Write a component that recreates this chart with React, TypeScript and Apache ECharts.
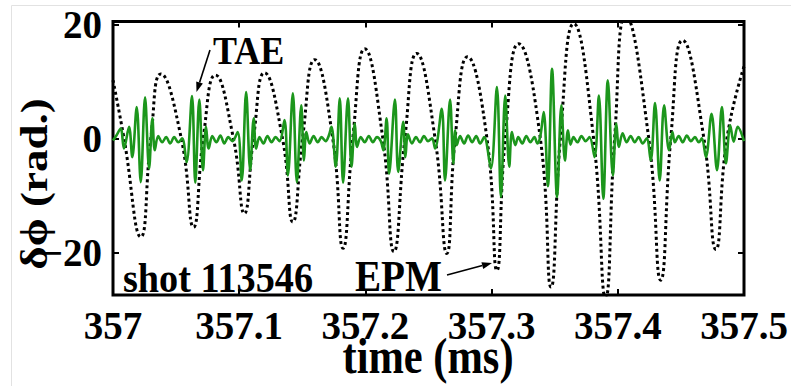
import React, { useEffect, useRef } from 'react';
import * as echarts from 'echarts';

// ---- data ----
const xTicks = [357, 357.1, 357.2, 357.3, 357.4, 357.5];
const yTicks = [-20, 0, 20];

// EPM (black dotted) : extrema and zero crossings
const epmTime = [
  357.0, 357.0087, 357.022, 357.03, 357.0379, 357.0541, 357.0638, 357.0715, 357.0811, 357.0954,
  357.1041, 357.1113, 357.12, 357.1343, 357.1425, 357.1502, 357.1598, 357.1741, 357.1823, 357.19,
  357.1995, 357.2138, 357.2226, 357.2313, 357.2406, 357.2552, 357.2645, 357.2711, 357.2809, 357.2963,
  357.3042, 357.3108, 357.3214, 357.3386, 357.3471, 357.3545, 357.3651, 357.3808, 357.3903, 357.3975,
  357.4062, 357.4245, 357.434, 357.442, 357.4513, 357.4682, 357.4777, 357.4865, 357.5,
];
const epmPhase = [
  10.2, 0, -17.3, 0, 11.3, 0, -15.6, 0, 11.1, 0,
  -13.2, 0, 11.5, 0, -14.7, 0, 13.8, 0, -19.3, 0,
  15.7, 0, -19.9, 0, 14.9, 0, -20.2, 0, 14.3, 0,
  -23.2, 0, 16.6, 0, -26.1, 0, 20.1, 0, -28.0, 0,
  21.5, 0, -24.9, 0, 17.2, 0, -19.5, 0, 12.6,
];

// TAE (green) : peaks / troughs
const taeTime = [
  357.0, 357.0024, 357.0061, 357.0087, 357.0127, 357.0153, 357.0188, 357.022, 357.0254, 357.0286,
  357.0312, 357.0331, 357.0358, 357.039, 357.0421, 357.0453, 357.0485, 357.0517, 357.0548, 357.0583,
  357.0626, 357.0652, 357.0684, 357.0713, 357.0737, 357.0758, 357.0787, 357.0819, 357.0851, 357.0882,
  357.0914, 357.0946, 357.0988, 357.102, 357.1055, 357.1087, 357.1115, 357.1134, 357.1161, 357.1192,
  357.1224, 357.1256, 357.1288, 357.132, 357.1359, 357.1386, 357.1425, 357.1457, 357.1492, 357.1513,
  357.1532, 357.1558, 357.159, 357.1622, 357.1653, 357.1685, 357.1709, 357.1731, 357.1765, 357.1797,
  357.1823, 357.1862, 357.189, 357.1916, 357.1934, 357.1963, 357.1995, 357.2027, 357.2059, 357.2091,
  357.2122, 357.2142, 357.2168, 357.2188, 357.2234, 357.226, 357.23, 357.2317, 357.2337, 357.2369,
  357.2401, 357.2432, 357.2464, 357.2496, 357.2528, 357.2552, 357.2605, 357.2631, 357.2671, 357.2697,
  357.2711, 357.2724, 357.275, 357.2782, 357.2814, 357.2846, 357.2878, 357.2909, 357.2941, 357.2994,
  357.3042, 357.3074, 357.3108, 357.314, 357.3161, 357.3188, 357.3211, 357.3243, 357.3275, 357.3307,
  357.3339, 357.3363, 357.3386, 357.3413, 357.3446, 357.3479, 357.3519, 357.3553, 357.3581, 357.3605,
  357.3625, 357.3649, 357.368, 357.3712, 357.3744, 357.3776, 357.3816, 357.385, 357.3885, 357.3921,
  357.3961, 357.3988, 357.4009, 357.4038, 357.407, 357.4102, 357.4134, 357.4165, 357.4197, 357.4229,
  357.4261, 357.4295, 357.4332, 357.4367, 357.4406, 357.4433, 357.4452, 357.4483, 357.4515, 357.4547,
  357.4579, 357.4611, 357.4642, 357.4666, 357.4698, 357.4743, 357.4786, 357.4825, 357.4857, 357.4891,
  357.4918, 357.495, 357.5,
];
const taePhase = [
  -0.4, 0.4, 1.7, -1.8, 2.0, -3.3, 5.5, -7.7, 7.2, -5.3,
  3.5, -2.1, 0.4, -0.7, 0.2, -0.9, 0.2, -0.7, 0.0, -4.2,
  7.4, -7.8, 6.8, -5.6, 2.0, -1.8, 0.4, -0.7, 0.5, -0.9,
  0.2, -0.5, 1.1, -7.4, 8.1, -5.6, 3.5, -1.8, 0.2, -0.9,
  0.4, -0.7, 0.2, -0.5, 3.2, -6.5, 7.9, -7.7, 5.8, -3.9,
  1.1, -0.9, 0.4, -0.7, 0.2, -0.5, 0.4, 2.0, -5.0, 7.0,
  -7.8, 7.0, -5.0, 2.6, -1.5, 0.2, -0.7, 0.4, -0.7, 0.2,
  -0.5, -2.1, 3.5, -6.2, 6.8, -5.9, 2.9, -3.3, 0.7, -0.9,
  0.2, -0.7, 0.4, -0.5, 0.0, -1.8, 5.2, -7.4, 6.8, -4.4,
  1.4, -1.2, 0.4, -0.9, 0.5, -0.7, 0.4, -0.9, 0.2, -5.3,
  9.0, -10.3, 7.5, -5.0, 1.1, -1.2, 0.2, -0.9, 0.4, -0.7,
  0.2, -0.9, 0.4, 4.6, -8.4, 12.2, -10.3, 5.8, -3.9, 1.4,
  -1.1, 0.2, -0.7, 0.4, -0.5, 0.2, -3.3, 7.5, -10.6, 10.2,
  -6.5, 2.6, -1.5, 0.9, -0.7, 0.4, -0.7, 0.2, -0.9, 0.0,
  -3.9, 6.2, -7.4, 5.8, -2.1, 1.1, -0.7, 0.4, -0.7, 0.5,
  -0.5, 0.2, -0.7, 0.0, -3.3, 4.3, -5.6, 5.5, -4.4, 2.3,
  -0.6, 2.0, -0.5,
];

const SERIF = '"Liberation Serif", "Times New Roman", "DejaVu Serif", serif';

function arrow(x1: number, y1: number, tx: number, ty: number, headLen: number, headHalf: number) {
  const dx = tx - x1;
  const dy = ty - y1;
  const len = Math.sqrt(dx * dx + dy * dy);
  const ux = dx / len;
  const uy = dy / len;
  const bx = tx - ux * headLen;
  const by = ty - uy * headLen;
  const nx = -uy;
  const ny = ux;
  return [
    {
      type: 'line',
      z: 100,
      shape: { x1, y1, x2: bx, y2: by },
      style: { stroke: '#000', lineWidth: 1.6 },
    },
    {
      type: 'polygon',
      z: 100,
      shape: {
        points: [
          [tx, ty],
          [bx + nx * headHalf, by + ny * headHalf],
          [bx - nx * headHalf, by - ny * headHalf],
        ],
      },
      style: { fill: '#000' },
    },
  ];
}

function label(text: string, x: number, y: number, size: number, sx: number, extra: any = {}) {
  return {
    type: 'text',
    z: 100,
    x,
    y,
    scaleX: sx,
    ...extra,
    style: {
      text,
      font: `bold ${size}px ${SERIF}`,
      fill: '#000',
      align: extra.align || 'left',
      textAlign: extra.align || 'left',
      verticalAlign: 'middle',
      textVerticalAlign: 'middle',
    },
  };
}

export default function App() {
  const ref = useRef<HTMLDivElement>(null);

  useEffect(() => {
    if (!ref.current) return;
    const chart = echarts.init(ref.current, null, { renderer: 'svg' });

    const epm = epmTime.map((t, i) => [t, epmPhase[i]]);
    const tae = taeTime.map((t, i) => [t, taePhase[i]]);

    const tickStyle = { color: '#000', width: 2 };
    const xLabelFmt = (v: number) => {
      const r = Math.round(v * 10) / 10;
      return Number.isInteger(r) ? String(r) : r.toFixed(1);
    };
    const yLabelFmt = (v: number) => (v < 0 ? '\u2212' + Math.abs(v) : String(v));
    const hiddenLine = { show: false, onZero: false };

    chart.setOption({
      animation: false,
      backgroundColor: '#ffffff',
      grid: {
        left: 113,
        right: 47,
        top: 21.5,
        bottom: 91,
        show: true,
        borderColor: '#000',
        borderWidth: 3,
        backgroundColor: 'transparent',
      },
      xAxis: [
        {
          type: 'value',
          min: xTicks[0],
          max: xTicks[xTicks.length - 1],
          interval: 0.1,
          position: 'bottom',
          axisLine: hiddenLine,
          splitLine: { show: false },
          axisTick: { show: true, inside: true, length: 6, lineStyle: tickStyle },
          axisLabel: {
            show: true,
            color: '#000',
            fontFamily: SERIF,
            fontWeight: 'bold',
            fontSize: 39,
            margin: 11,
            formatter: xLabelFmt,
            showMinLabel: true,
            showMaxLabel: true,
          },
        },
        {
          type: 'value',
          min: xTicks[0],
          max: xTicks[xTicks.length - 1],
          interval: 0.1,
          position: 'top',
          axisLine: hiddenLine,
          splitLine: { show: false },
          axisTick: { show: true, inside: true, length: 6, lineStyle: tickStyle },
          axisLabel: { show: false },
        },
      ],
      yAxis: [
        {
          type: 'value',
          min: -27.5,
          max: 20.5,
          position: 'left',
          axisLine: hiddenLine,
          splitLine: { show: false },
          axisTick: { show: true, inside: true, length: 6, lineStyle: tickStyle, customValues: yTicks },
          axisLabel: {
            show: true,
            customValues: yTicks,
            color: '#000',
            fontFamily: SERIF,
            fontWeight: 'bold',
            fontSize: 39,
            margin: 11,
            formatter: yLabelFmt,
          },
        },
        {
          type: 'value',
          min: -27.5,
          max: 20.5,
          position: 'right',
          axisLine: hiddenLine,
          splitLine: { show: false },
          axisTick: { show: true, inside: true, length: 6, lineStyle: tickStyle, customValues: yTicks },
          axisLabel: { show: false, customValues: yTicks },
        },
      ],
      series: [
        {
          name: 'EPM',
          type: 'line',
          data: epm,
          showSymbol: false,
          smooth: 0.5,
          z: 2,
          lineStyle: { color: '#000', width: 3, type: [3, 3] },
        },
        {
          name: 'TAE',
          type: 'line',
          data: tae,
          showSymbol: false,
          smooth: 0.35,
          z: 3,
          lineStyle: { color: '#1c961c', width: 2.6 },
        },
      ],
      graphic: [
        {
          type: 'line',
          z: 1,
          shape: { x1: 11.5, y1: 5.5, x2: 791, y2: 5.5 },
          style: { stroke: '#e2e2e2', lineWidth: 1 },
        },
        {
          type: 'line',
          z: 1,
          shape: { x1: 11.5, y1: 5.5, x2: 11.5, y2: 386 },
          style: { stroke: '#e2e2e2', lineWidth: 1 },
        },
        label('TAE', 213, 50, 40, 0.9),
        label('EPM', 355, 276, 44, 0.89),
        label('shot 113546', 123, 278, 42, 0.91),
        label('time (ms)', 428, 356, 50, 0.85, { align: 'center' }),
        label('\u03b4\u03d5 (rad.)', 34, 184, 50, 0.9, { align: 'center', rotation: Math.PI / 2, scaleY: 0.75 }),
        ...arrow(210, 50, 196.5, 92, 10, 3.5),
        ...arrow(447, 275, 492, 263, 10, 3.5),
      ],
    });

    return () => chart.dispose();
  }, []);

  return (
    <div
      ref={ref}
      style={{ position: 'fixed', left: 0, top: 0, width: 791, height: 386, background: '#fff' }}
    />
  );
}
